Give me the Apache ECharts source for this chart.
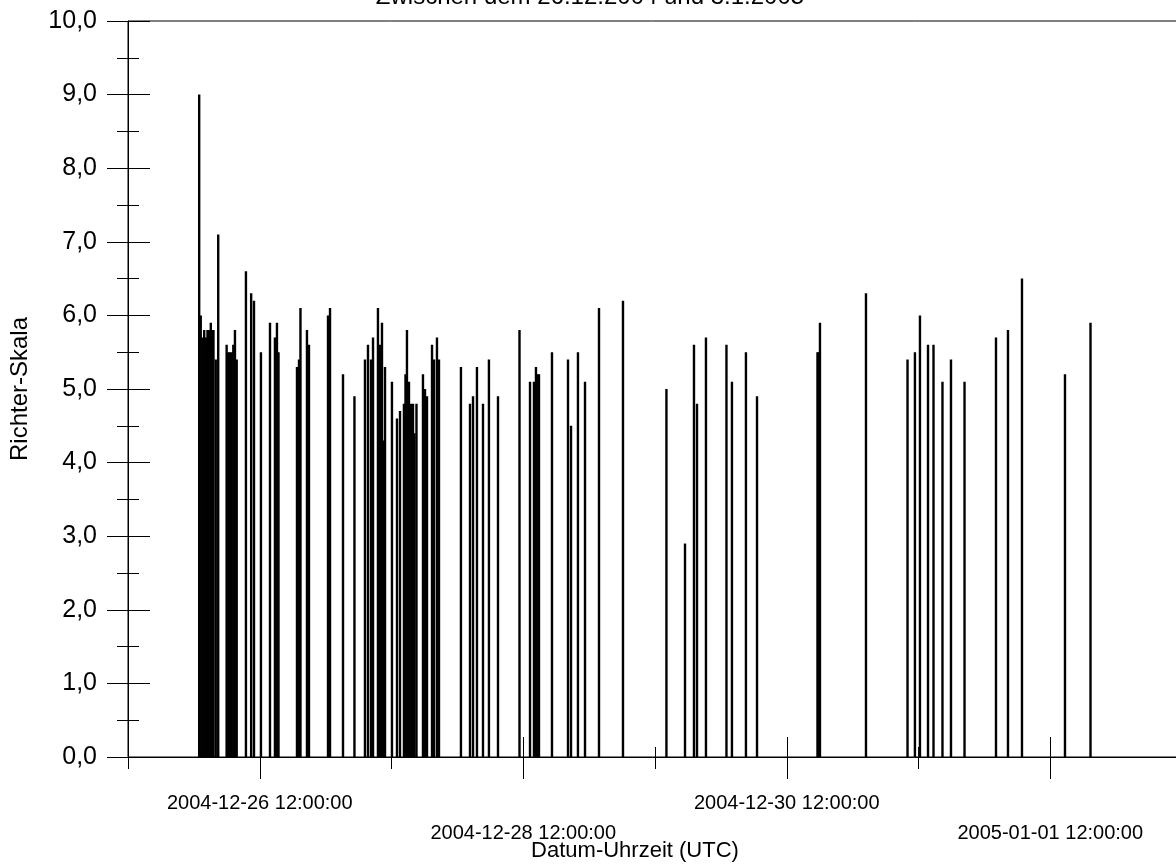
<!DOCTYPE html>
<html>
<head>
<meta charset="utf-8">
<script src="https://cdn.jsdelivr.net/npm/echarts@6/dist/echarts.min.js"></script>
<style>
  html, body { margin: 0; padding: 0; background: #fff; }
  #main { width: 1176px; height: 865px; }
</style>
</head>
<body>
<div id="main"></div>
<script>
// Beben zwischen 26.12.2004 und 3.1.2005 (Zeit UTC, Stärke Richter)
var quakeTimes = [
  '2004-12-26 00:58', '2004-12-26 01:15', '2004-12-26 01:34', '2004-12-26 01:53',
  '2004-12-26 02:10', '2004-12-26 02:29', '2004-12-26 02:45', '2004-12-26 03:05',
  '2004-12-26 03:23', '2004-12-26 03:34', '2004-12-26 03:59', '2004-12-26 04:26',
  '2004-12-26 05:58', '2004-12-26 06:16', '2004-12-26 06:34', '2004-12-26 06:53',
  '2004-12-26 07:11', '2004-12-26 07:29', '2004-12-26 07:48', '2004-12-26 09:29',
  '2004-12-26 10:26', '2004-12-26 10:57', '2004-12-26 12:13', '2004-12-26 13:52',
  '2004-12-26 14:46', '2004-12-26 15:08', '2004-12-26 15:25', '2004-12-26 18:47',
  '2004-12-26 19:09', '2004-12-26 19:25', '2004-12-26 20:36', '2004-12-26 20:58',
  '2004-12-27 00:26', '2004-12-27 00:48', '2004-12-27 03:10', '2004-12-27 05:15',
  '2004-12-27 07:10', '2004-12-27 07:43', '2004-12-27 08:16', '2004-12-27 08:38',
  '2004-12-27 09:32', '2004-12-27 09:54', '2004-12-27 10:16', '2004-12-27 10:32',
  '2004-12-27 10:49', '2004-12-27 12:05', '2004-12-27 13:00', '2004-12-27 13:33',
  '2004-12-27 14:16', '2004-12-27 14:33', '2004-12-27 14:49', '2004-12-27 15:11',
  '2004-12-27 15:33', '2004-12-27 15:55', '2004-12-27 16:11', '2004-12-27 16:33',
  '2004-12-27 17:44', '2004-12-27 18:06', '2004-12-27 18:28', '2004-12-27 19:23',
  '2004-12-27 19:45', '2004-12-27 20:17', '2004-12-27 20:39',
  '2004-12-28 00:39', '2004-12-28 02:18', '2004-12-28 02:51', '2004-12-28 03:34',
  '2004-12-28 04:40', '2004-12-28 05:45', '2004-12-28 07:24', '2004-12-28 11:19',
  '2004-12-28 13:14', '2004-12-28 13:57', '2004-12-28 14:19', '2004-12-28 14:36',
  '2004-12-28 14:52', '2004-12-28 17:14', '2004-12-28 20:09', '2004-12-28 20:42',
  '2004-12-28 21:58', '2004-12-28 23:15',
  '2004-12-29 01:48', '2004-12-29 06:10', '2004-12-29 14:05', '2004-12-29 17:28',
  '2004-12-29 19:06', '2004-12-29 19:39', '2004-12-29 21:17',
  '2004-12-30 01:01', '2004-12-30 02:01', '2004-12-30 04:34', '2004-12-30 06:35',
  '2004-12-30 17:36', '2004-12-30 17:47', '2004-12-30 18:03',
  '2004-12-31 02:26', '2004-12-31 10:00', '2004-12-31 11:21', '2004-12-31 12:16',
  '2004-12-31 13:44', '2004-12-31 14:44', '2004-12-31 16:22', '2004-12-31 17:55',
  '2004-12-31 20:23',
  '2005-01-01 02:07', '2005-01-01 04:18', '2005-01-01 06:51', '2005-01-01 14:41',
  '2005-01-01 19:20'
];
var quakeMags = [
  9.0, 6.0, 5.7, 5.8,
  5.7, 5.8, 5.8, 5.9,
  5.8, 5.8, 5.4, 7.1,
  5.6, 5.5, 5.5, 5.5,
  5.6, 5.8, 5.4, 6.6,
  6.3, 6.2, 5.5, 5.9,
  5.7, 5.9, 5.5, 5.3,
  5.4, 6.1, 5.8, 5.6,
  6.0, 6.1, 5.2, 4.9,
  5.4, 5.6, 5.4, 5.7,
  6.1, 5.6, 5.9, 4.3,
  5.3, 5.1, 4.6, 4.7,
  4.8, 5.2, 5.8, 5.1,
  4.8, 4.8, 4.4, 4.8,
  5.2, 5.0, 4.9, 5.6,
  5.4, 5.7, 5.4,
  5.3, 4.8, 4.9, 5.3,
  4.8, 5.4, 4.9, 5.8,
  5.1, 5.1, 5.3, 5.2,
  5.2, 5.5, 5.4, 4.5,
  5.5, 5.1,
  6.1, 6.2, 5.0, 2.9,
  5.6, 4.8, 5.7,
  5.6, 5.1, 5.5, 4.9,
  5.5, 5.5, 5.9,
  6.3, 5.4, 5.5, 6.0,
  5.6, 5.6, 5.1, 5.4,
  5.1,
  5.7, 5.8, 6.5, 5.2,
  5.9
];
// Beschriftete Zeitpunkte (jeden zweiten Tag, versetzt)
var xTickLabels = ['2004-12-26 12:00:00', '2004-12-28 12:00:00', '2004-12-30 12:00:00', '2005-01-01 12:00:00'];
var yMin = 0, yMax = 10, yStep = 1;

var DAY = 86400000;
var xStart = Date.UTC(2004, 11, 25, 12, 0);
var xEnd = xStart + 8 * DAY;

function toUTC(s) {
  var p = s.split(' ');
  var d = p[0].split('-').map(Number);
  var hm = p[1].split(':').map(Number);
  return Date.UTC(d[0], d[1] - 1, d[2], hm[0], hm[1]);
}

var barData = quakeTimes.map(function (t, i) {
  return [toUTC(t), quakeMags[i]];
});

var FONT = 'Liberation Sans';
var chart = echarts.init(document.getElementById('main'));

var xBase = {
  type: 'value',
  min: xStart,
  max: xEnd,
  position: 'bottom',
  splitLine: { show: false },
  axisLabel: { show: false }
};

var option = {
  animation: false,
  backgroundColor: '#fff',
  title: {
    text: 'Zwischen dem 26.12.2004 und 3.1.2005',
    left: 585,
    top: -20,
    textAlign: 'center',
    textStyle: { fontFamily: FONT, fontSize: 24, fontWeight: 'normal', color: '#000' }
  },
  grid: {
    left: 128,
    top: 21,
    width: 1054,
    height: 736,
    outerBoundsMode: 'none',
    show: true,
    borderColor: '#000',
    borderWidth: 1,
    backgroundColor: 'transparent'
  },
  xAxis: [
    // Linie + Striche nach aussen (kurz an ungeraden, lang an beschrifteten Tagen)
    Object.assign({}, xBase, {
      interval: 2 * DAY,
      axisLine: { show: true, lineStyle: { color: '#000', width: 1 } },
      axisTick: { show: true, inside: false, length: 12, lineStyle: { color: '#000' } },
      minorTick: { show: true, splitNumber: 2, length: 22, lineStyle: { color: '#000' } },
      name: 'Datum-Uhrzeit (UTC)',
      nameLocation: 'middle',
      nameGap: 83,
      nameTextStyle: { fontFamily: FONT, fontSize: 22, color: '#000', padding: [0, 40, 0, 0] }
    }),
    // Striche nach innen
    Object.assign({}, xBase, {
      interval: 2 * DAY,
      axisLine: { show: false },
      axisTick: { show: true, inside: true, length: 10, lineStyle: { color: '#000' } },
      minorTick: { show: true, splitNumber: 2, length: 20, lineStyle: { color: '#000' } }
    }),
    // Beschriftung
    Object.assign({}, xBase, {
      interval: DAY,
      axisLine: { show: false },
      axisTick: { show: false },
      axisLabel: {
        show: true,
        margin: 31,
        fontFamily: FONT,
        fontSize: 20,
        lineHeight: 30,
        color: '#000',
        showMinLabel: true,
        showMaxLabel: true,
        formatter: function (v) {
          var k = Math.round((v - xStart) / DAY);
          if (k % 2 !== 1) return '';
          var idx = (k - 1) / 2;
          var txt = xTickLabels[idx] || '';
          return idx % 2 ? '\n' + txt : txt;
        }
      }
    })
  ],
  yAxis: [
    {
      type: 'value',
      min: yMin,
      max: yMax,
      interval: yStep,
      position: 'left',
      splitLine: { show: false },
      axisLine: { show: true, lineStyle: { color: '#000', width: 1 } },
      axisTick: { show: true, inside: false, length: 21, lineStyle: { color: '#000' } },
      minorTick: { show: true, splitNumber: 2, length: 11, lineStyle: { color: '#000' } },
      axisLabel: {
        margin: 31,
        fontFamily: FONT,
        fontSize: 25,
        color: '#000',
        formatter: function (v) { return v.toFixed(1).replace('.', ','); }
      },
      name: 'Richter-Skala',
      nameLocation: 'middle',
      nameGap: 96,
      nameTextStyle: { fontFamily: FONT, fontSize: 24, color: '#000' }
    },
    {
      type: 'value',
      min: yMin,
      max: yMax,
      interval: yStep,
      position: 'left',
      splitLine: { show: false },
      axisLine: { show: false },
      axisTick: { show: true, inside: true, length: 22, lineStyle: { color: '#000' } },
      minorTick: { show: true, splitNumber: 2, length: 11, lineStyle: { color: '#000' } },
      axisLabel: { show: false }
    }
  ],
  series: [{
    type: 'bar',
    xAxisIndex: 0,
    yAxisIndex: 0,
    barWidth: 2.4,
    itemStyle: { color: '#000' },
    data: barData
  }]
};

chart.setOption(option);
</script>
</body>
</html>
